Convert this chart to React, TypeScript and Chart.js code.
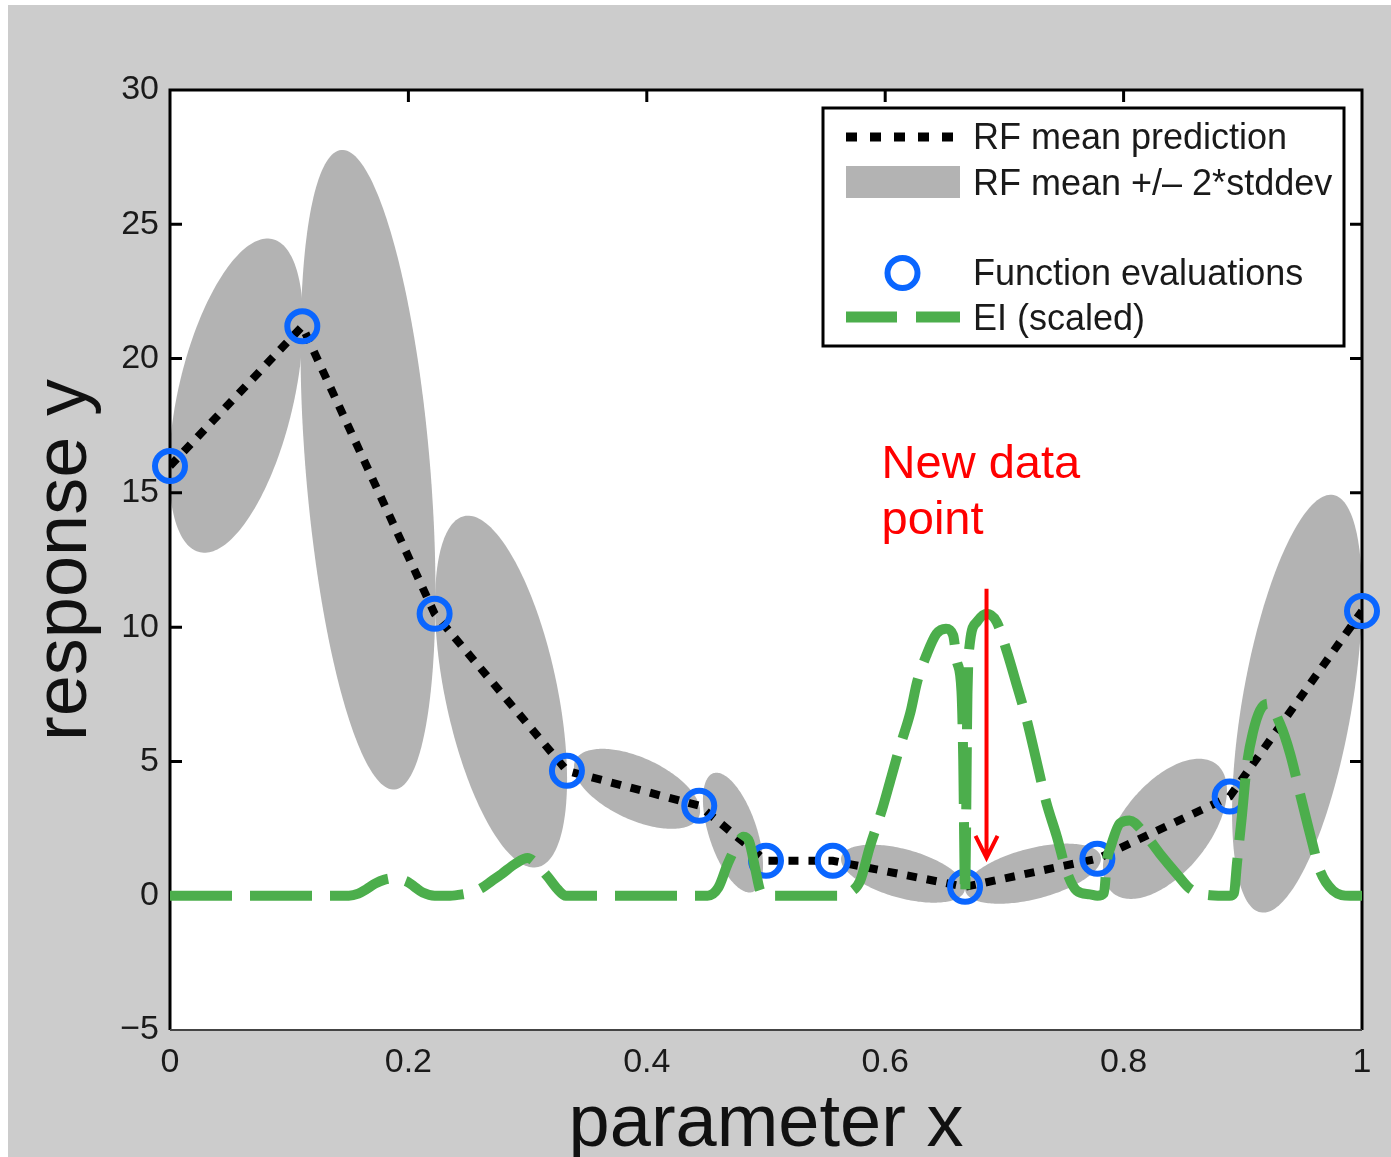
import React, { useEffect, useRef } from 'react';
import { Chart, registerables } from 'chart.js';

Chart.register(...registerables);

const FONT = '"Liberation Sans", Arial, Helvetica, sans-serif';
const GREEN = '#4cae4c';
const BLUE = '#0a66ff';
const BAND = '#b3b3b3';
const TEXT = '#1a1a1a';

// Function evaluations / RF mean prediction
const evalX = [0, 0.111, 0.222, 0.333, 0.444, 0.5, 0.556, 0.667, 0.778, 0.889, 1.0];
const evalY = [16.0, 21.2, 10.5, 4.65, 3.35, 1.3, 1.3, 0.33, 1.38, 3.69, 10.6];

// EI (scaled)
const eiX = [0, 0.15, 0.158, 0.165, 0.172, 0.18, 0.187, 0.194, 0.2, 0.206, 0.212, 0.222, 0.235, 0.245, 0.255, 0.262, 0.27, 0.278, 0.29, 0.3, 0.307, 0.317, 0.325, 0.332, 0.451, 0.46, 0.468, 0.477, 0.481, 0.486, 0.491, 0.495, 0.5, 0.566, 0.57, 0.579, 0.587, 0.598, 0.605, 0.612, 0.621, 0.627, 0.635, 0.643, 0.651, 0.657, 0.66, 0.664, 0.6655, 0.667, 0.669, 0.671, 0.677, 0.685, 0.6935, 0.702, 0.71, 0.719, 0.727, 0.735, 0.744, 0.752, 0.7606, 0.7718, 0.778, 0.7835, 0.786, 0.789, 0.797, 0.805, 0.816, 0.8305, 0.8448, 0.8557, 0.8725, 0.889, 0.8926, 0.8951, 0.8993, 0.9035, 0.9086, 0.9144, 0.9211, 0.9312, 0.9396, 0.948, 0.9564, 0.9648, 0.9757, 0.99, 1.0];
const eiY = [0, 0, 0.08, 0.25, 0.45, 0.6, 0.65, 0.6, 0.5, 0.3, 0.12, 0, 0, 0.05, 0.15, 0.3, 0.55, 0.8, 1.2, 1.4, 1.2, 0.7, 0.25, 0, 0, 0.3, 1.2, 2.0, 2.2, 2.0, 1.0, 0.2, 0, 0, 0.1, 0.56, 1.8, 3.3, 4.4, 5.5, 6.8, 8.0, 9.0, 9.75, 9.94, 9.7, 8.75, 7.6, 5.0, 0, 7.5, 9.4, 10.2, 10.5, 10.2, 9.1, 7.9, 6.5, 5.0, 3.5, 2.2, 0.93, 0.19, 0.05, 0, 0.1, 1.3, 1.8, 2.7, 2.8, 2.4, 1.56, 0.8, 0.26, 0.02, 0, 0.1, 1.2, 3.0, 4.9, 6.1, 6.9, 7.15, 6.4, 5.3, 3.8, 2.3, 0.93, 0.19, 0, 0];

// RF mean +/- 2*stddev regions (covariance ellipses: centre, half extents, correlation)
const ellCX = [0.0554, 0.1661, 0.2777, 0.3918, 0.4723, 0.6149, 0.724, 0.8347, 0.9455];
const ellCY = [18.62, 15.86, 7.6, 3.98, 2.35, 0.82, 0.82, 2.49, 7.15];
const ellSX = [0.0562, 0.0566, 0.0554, 0.0529, 0.0252, 0.052, 0.057, 0.052, 0.0545];
const ellSY = [5.85, 11.91, 6.55, 1.49, 2.23, 1.08, 1.12, 2.61, 7.78];
const ellRho = [0.47, -0.38, -0.5, -0.55, -0.55, -0.5, 0.5, 0.55, 0.52];

// Annotation
const noteLines = ['New data', 'point'];
const noteX = 0.597;
const noteBaselineY = [15.56, 13.48];
const arrowX = 0.685;
const arrowTopY = 11.43;
const arrowTipY = 1.41;

// Legend
const legendLabels = ['RF mean prediction', 'RF mean +/\u2013 2*stddev', 'Function evaluations', 'EI (scaled)'];

const fmtX = (v: number) => String(Number(Number(v).toFixed(1)));
const fmtY = (v: number) => (v < 0 ? '\u2212' + Math.abs(v) : String(v));

const decorPlugin = {
  id: 'decor',
  beforeDraw(chart: any) {
    const { ctx, chartArea: a } = chart;
    ctx.save();
    ctx.fillStyle = '#ffffff';
    ctx.fillRect(a.left, a.top, a.right - a.left, a.bottom - a.top);
    ctx.restore();
  },
  beforeDatasetsDraw(chart: any) {
    const { ctx, chartArea: a, scales } = chart;
    const xs = scales.x, ys = scales.y;
    ctx.save();
    ctx.beginPath();
    ctx.rect(a.left, a.top, a.right - a.left, a.bottom - a.top);
    ctx.clip();
    ctx.fillStyle = BAND;
    for (let i = 0; i < ellCX.length; i++) {
      const r = ellRho[i];
      const q = Math.sqrt(1 - r * r);
      ctx.beginPath();
      for (let k = 0; k <= 200; k++) {
        const t = (k / 200) * Math.PI * 2;
        const dx = ellCX[i] + ellSX[i] * Math.cos(t);
        const dy = ellCY[i] + ellSY[i] * (r * Math.cos(t) + q * Math.sin(t));
        const px = xs.getPixelForValue(dx);
        const py = ys.getPixelForValue(dy);
        if (k === 0) ctx.moveTo(px, py);
        else ctx.lineTo(px, py);
      }
      ctx.closePath();
      ctx.fill();
    }
    ctx.restore();

    // frame
    ctx.save();
    ctx.strokeStyle = '#000';
    ctx.lineWidth = 3;
    ctx.beginPath();
    ctx.moveTo(a.left, a.bottom);
    ctx.lineTo(a.left, a.top);
    ctx.lineTo(a.right, a.top);
    ctx.lineTo(a.right, a.bottom);
    ctx.stroke();
    ctx.strokeStyle = '#444';
    ctx.lineWidth = 2;
    ctx.beginPath();
    ctx.moveTo(a.left, a.bottom);
    ctx.lineTo(a.right, a.bottom);
    ctx.stroke();
    ctx.strokeStyle = '#000';
    ctx.lineWidth = 3;
    ctx.beginPath();
    ys.ticks.forEach((t: any) => {
      const y = ys.getPixelForValue(t.value);
      if (y <= a.top + 1 || y >= a.bottom - 1) return;
      ctx.moveTo(a.left, y);
      ctx.lineTo(a.left + 12, y);
      ctx.moveTo(a.right - 12, y);
      ctx.lineTo(a.right, y);
    });
    xs.ticks.forEach((t: any) => {
      const x = xs.getPixelForValue(t.value);
      if (x <= a.left + 1 || x >= a.right - 1) return;
      ctx.moveTo(x, a.top);
      ctx.lineTo(x, a.top + 12);
    });
    ctx.stroke();
    ctx.restore();
  },
  afterDatasetsDraw(chart: any) {
    const { ctx, chartArea: a, scales } = chart;
    const xs = scales.x, ys = scales.y;
    // annotation
    ctx.save();
    ctx.fillStyle = '#ff0000';
    ctx.font = `47px ${FONT}`;
    ctx.textAlign = 'left';
    ctx.textBaseline = 'alphabetic';
    noteLines.forEach((s, i) => {
      ctx.fillText(s, xs.getPixelForValue(noteX), ys.getPixelForValue(noteBaselineY[i]));
    });
    const ax = xs.getPixelForValue(arrowX);
    const ay0 = ys.getPixelForValue(arrowTopY);
    const ay1 = ys.getPixelForValue(arrowTipY);
    ctx.strokeStyle = '#ff0000';
    ctx.lineWidth = 4;
    ctx.beginPath();
    ctx.moveTo(ax, ay0);
    ctx.lineTo(ax, ay1);
    ctx.moveTo(ax - 11, ay1 - 22);
    ctx.lineTo(ax, ay1);
    ctx.lineTo(ax + 11, ay1 - 22);
    ctx.stroke();
    ctx.restore();

    // legend box
    const W = 521, H = 238;
    const L = a.right - 18 - W;
    const T = a.top + 18;
    ctx.save();
    ctx.fillStyle = '#fff';
    ctx.fillRect(L, T, W, H);
    ctx.strokeStyle = '#000';
    ctx.lineWidth = 3;
    ctx.strokeRect(L, T, W, H);
    // row 1: dotted line
    ctx.strokeStyle = '#000';
    ctx.lineWidth = 9;
    ctx.setLineDash([11, 13]);
    ctx.beginPath();
    ctx.moveTo(L + 23, T + 29);
    ctx.lineTo(L + 131, T + 29);
    ctx.stroke();
    ctx.setLineDash([]);
    // row 2: band
    ctx.fillStyle = BAND;
    ctx.fillRect(L + 23, T + 58, 114, 32);
    // row 3: circle
    ctx.strokeStyle = BLUE;
    ctx.lineWidth = 6;
    ctx.beginPath();
    ctx.arc(L + 79.5, T + 165, 15, 0, Math.PI * 2);
    ctx.stroke();
    // row 4: green dashes
    ctx.strokeStyle = GREEN;
    ctx.lineWidth = 11;
    ctx.beginPath();
    ctx.moveTo(L + 23, T + 209);
    ctx.lineTo(L + 74, T + 209);
    ctx.moveTo(L + 93, T + 209);
    ctx.lineTo(L + 137, T + 209);
    ctx.stroke();
    // texts
    ctx.fillStyle = TEXT;
    ctx.font = `36px ${FONT}`;
    ctx.textAlign = 'left';
    ctx.textBaseline = 'alphabetic';
    const baselines = [41, 87, 177, 222];
    legendLabels.forEach((s, i) => ctx.fillText(s, L + 150, T + baselines[i]));
    ctx.restore();
  },
};

export default function App() {
  const ref = useRef<HTMLCanvasElement>(null);
  useEffect(() => {
    const evalPts = evalX.map((x, i) => ({ x, y: evalY[i] }));
    const eiPts = eiX.map((x, i) => ({ x, y: eiY[i] }));
    const chart = new Chart(ref.current as HTMLCanvasElement, {
      type: 'scatter',
      data: {
        datasets: [
          {
            type: 'line',
            label: 'EI (scaled)',
            data: eiPts,
            borderColor: GREEN,
            borderWidth: 10,
            borderDash: [62, 18],
            borderCapStyle: 'butt',
            pointRadius: 0,
            pointHoverRadius: 0,
            fill: false,
            cubicInterpolationMode: 'monotone',
            order: 0,
          } as any,
          {
            type: 'scatter',
            label: 'Function evaluations',
            data: evalPts,
            showLine: false,
            pointRadius: 15,
            pointHoverRadius: 15,
            pointBorderWidth: 6,
            pointHoverBorderWidth: 6,
            pointBorderColor: BLUE,
            pointBackgroundColor: 'rgba(0,0,0,0)',
            clip: false,
            order: 1,
          } as any,
          {
            type: 'line',
            label: 'RF mean prediction',
            data: evalPts,
            borderColor: '#000',
            borderWidth: 8,
            borderDash: [10, 10],
            pointRadius: 0,
            pointHoverRadius: 0,
            tension: 0,
            fill: false,
            order: 2,
          } as any,
        ],
      },
      options: {
        animation: false,
        responsive: false,
        devicePixelRatio: 1,
        events: [],
        layout: { padding: { left: 0, right: 29, top: 85, bottom: 0 } },
        plugins: { legend: { display: false }, tooltip: { enabled: false } },
        scales: {
          x: {
            type: 'linear',
            min: 0,
            max: 1,
            grid: { display: false, drawTicks: false },
            border: { display: false },
            ticks: {
              stepSize: 0.2,
              autoSkip: false,
              maxRotation: 0,
              padding: 12,
              color: TEXT,
              font: { size: 34, family: FONT },
              callback: (v: any) => fmtX(v),
            },
            title: {
              display: true,
              text: 'parameter x',
              color: '#111',
              font: { size: 74, family: FONT, lineHeight: 0.86 },
              padding: { top: 0, bottom: 0 },
            },
            afterFit: (s: any) => {
              s.height = 127;
            },
          },
          y: {
            type: 'linear',
            min: -5,
            max: 30,
            grid: { display: false, drawTicks: false },
            border: { display: false },
            ticks: {
              stepSize: 5,
              padding: 11,
              color: TEXT,
              font: { size: 34, family: FONT },
              callback: (v: any) => fmtY(v),
            },
            title: {
              display: true,
              text: 'response y',
              color: '#111',
              font: { size: 74, family: FONT, lineHeight: 1 },
              padding: { top: 21, bottom: 0 },
            },
            afterFit: (s: any) => {
              s.width = 162;
            },
          },
        },
      } as any,
      plugins: [decorPlugin],
    });
    return () => chart.destroy();
  }, []);
  return (
    <div
      style={{
        position: 'absolute',
        left: 8,
        top: 5,
        width: 1383,
        height: 1152,
        background: '#cccccc',
        overflow: 'hidden',
      }}
    >
      <canvas ref={ref} width={1383} height={1152} style={{ display: 'block', width: 1383, height: 1152 }} />
    </div>
  );
}
